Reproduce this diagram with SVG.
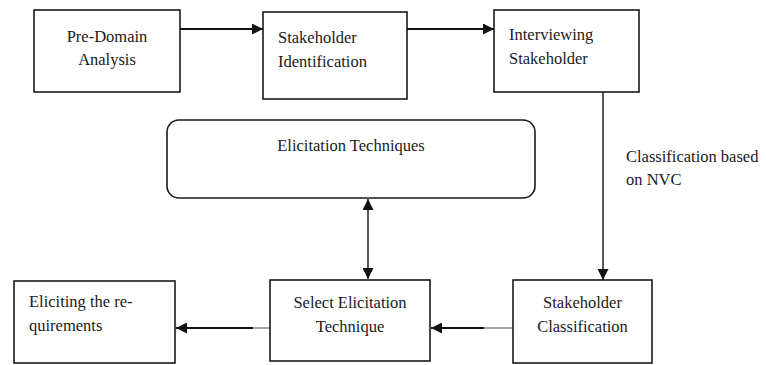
<svg xmlns="http://www.w3.org/2000/svg" width="766" height="365" viewBox="0 0 766 365">
<defs>
<style>
.box{fill:#fff;stroke:#1a1a1a;stroke-width:1.6}
.t{font-family:"Liberation Serif","Times New Roman",serif;font-size:16.5px;fill:#1a1a1a}
.c{text-anchor:middle}
.ln{stroke:#111;stroke-width:1.8;fill:none}
.thin{stroke:#111;stroke-width:1.4;fill:none}
.gray{stroke:#9a9a9a;stroke-width:1.8;fill:none}
</style>
<marker id="ah" viewBox="0 0 10 10" refX="10" refY="5" markerWidth="11" markerHeight="11" markerUnits="userSpaceOnUse" orient="auto-start-reverse">
<path d="M0,0 L10,5 L0,10 Z" fill="#111"/>
</marker>
</defs>
<rect width="766" height="365" fill="#fff"/>
<g id="connectors">
<line class="ln" x1="180" y1="29" x2="263" y2="29" marker-end="url(#ah)"/>
<line class="ln" x1="407" y1="29" x2="494" y2="29" marker-end="url(#ah)"/>
<line class="thin" x1="603" y1="92" x2="603" y2="280" marker-end="url(#ah)"/>
<line class="thin" x1="368" y1="199" x2="368" y2="279" marker-start="url(#ah)" marker-end="url(#ah)"/>
<line class="gray" x1="513" y1="328" x2="483" y2="328"/>
<line class="ln" x1="484" y1="328" x2="431" y2="328" marker-end="url(#ah)"/>
<line class="gray" x1="270" y1="328" x2="252" y2="328"/>
<line class="ln" x1="253" y1="328" x2="176" y2="328" marker-end="url(#ah)"/>
</g>
<g id="pre-domain">
<rect class="box" x="34" y="10" width="146" height="82"/>
<text class="t c" x="107" y="42">Pre-Domain</text>
<text class="t c" x="107" y="65">Analysis</text>
</g>
<g id="stakeholder-identification">
<rect class="box" x="263" y="12" width="144" height="87"/>
<text class="t" x="278" y="43">Stakeholder</text>
<text class="t" x="278" y="67">Identification</text>
</g>
<g id="interviewing-stakeholder">
<rect class="box" x="494" y="10" width="145" height="82"/>
<text class="t" x="509" y="40">Interviewing</text>
<text class="t" x="509" y="64">Stakeholder</text>
</g>
<g id="elicitation-techniques">
<rect class="box" x="167" y="120" width="368" height="78" rx="12" ry="12"/>
<text class="t c" x="351" y="151">Elicitation Techniques</text>
</g>
<g id="nvc-label">
<text class="t" x="626" y="162">Classification based</text>
<text class="t" x="626" y="185">on NVC</text>
</g>
<g id="stakeholder-classification">
<rect class="box" x="513" y="280" width="139" height="83"/>
<text class="t c" x="582.5" y="308">Stakeholder</text>
<text class="t c" x="582.5" y="332">Classification</text>
</g>
<g id="select-elicitation-technique">
<rect class="box" x="270" y="280" width="160" height="81"/>
<text class="t c" x="350" y="308">Select Elicitation</text>
<text class="t c" x="350" y="332">Technique</text>
</g>
<g id="eliciting-requirements">
<rect class="box" x="14" y="281" width="161" height="82"/>
<text class="t" x="29" y="307">Eliciting the re-</text>
<text class="t" x="29" y="331">quirements</text>
</g>
</svg>
